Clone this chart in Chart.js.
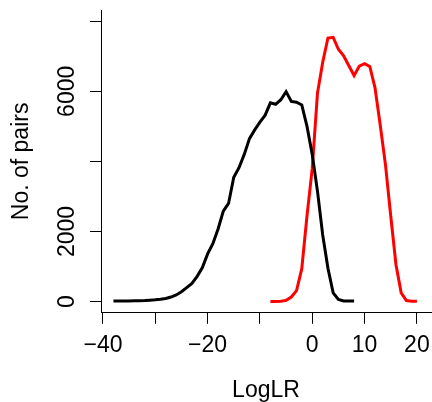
<!DOCTYPE html>
<html>
<head>
<meta charset="utf-8">
<script src="https://cdn.jsdelivr.net/npm/chart.js@4.4.1/dist/chart.umd.min.js"></script>
<style>
  html, body { margin: 0; padding: 0; background: #ffffff; }
  #wrap { width: 432px; height: 402px; }
</style>
</head>
<body>
<div id="wrap"><canvas id="c" width="432" height="402"></canvas></div>
<script>
// LogLR bins and counts (black: non-matching pairs, red: matching pairs)
const blackX = [-38,-37,-36,-35,-34,-33,-32,-31,-30,-29,-28,-27,-26,-25,-24,-23,-22,-21,-20,-19,-18,-17,-16,-15,-14,-13,-12,-11,-10,-9,-8,-7,-6,-5,-4,-3,-2,-1,0,1,2,3,4,5,6,7,8];
const blackY = [15,15,18,20,22,25,30,40,50,65,90,130,190,280,400,520,720,970,1360,1650,2070,2580,2800,3550,3820,4200,4650,4900,5120,5320,5670,5630,5760,5990,5710,5690,5610,5000,4200,3150,1900,950,250,60,20,15,15];
const redX = [-8,-7,-6,-5,-4,-3,-2,-1,0,1,2,3,4,5,6,7,8,9,10,11,12,13,14,15,16,17,18,19,20];
const redY = [5,5,10,35,130,314,940,2450,3800,5950,6830,7520,7540,7200,7010,6730,6450,6720,6790,6710,6100,5030,3900,2450,1060,250,30,10,10];
const xTicks = [-40,-30,-20,-10,0,10,20];
const xTickLabels = ['\u221240','','\u221220','','0','10','20'];
const yTicks = [0,2000,4000,6000,8000];
const yTickLabels = ['0','2000','','6000',''];
const xTitle = 'LogLR';
const yTitle = 'No. of pairs';

const FONT = 'Liberation Sans, Arial, Helvetica, sans-serif';

const toPts = (xs, ys) => xs.map((x, i) => ({ x: x, y: ys[i] }));

new Chart(document.getElementById('c'), {
  type: 'line',
  data: {
    datasets: [
      { data: toPts(blackX, blackY), borderColor: '#000000', borderWidth: 3, pointRadius: 0, tension: 0, fill: false },
      { data: toPts(redX, redY), borderColor: '#ff0000', borderWidth: 3, pointRadius: 0, tension: 0, fill: false }
    ]
  },
  options: {
    responsive: false,
    animation: false,
    devicePixelRatio: 1,
    layout: { padding: { top: 10, right: 1, left: 0, bottom: 0 } },
    plugins: { legend: { display: false }, tooltip: { enabled: false } },
    scales: {
      x: {
        type: 'linear',
        min: -40.38,
        max: 22.7,
        afterFit: s => { s.height = 89.2; s.paddingLeft = 0; s.paddingRight = 0; },
        afterBuildTicks: s => { s.ticks = xTicks.map(v => ({ value: v })); },
        grid: { display: true, drawOnChartArea: false, drawTicks: true, tickLength: 11, color: '#000000', lineWidth: 1 },
        border: { display: true, color: '#000000', width: 1 },
        ticks: {
          autoSkip: false, maxRotation: 0, minRotation: 0, padding: 8,
          color: '#000000', font: { family: FONT, size: 23 },
          callback: (v) => { const i = xTicks.indexOf(v); return i >= 0 ? xTickLabels[i] : ''; }
        },
        title: { display: true, text: xTitle, color: '#000000', font: { family: FONT, size: 23, lineHeight: 1 }, padding: { top: -3, bottom: 0 } }
      },
      y: {
        type: 'linear',
        min: -320,
        max: 8320,
        afterFit: s => { s.width = 101; s.paddingTop = 0; s.paddingBottom = 0; },
        afterBuildTicks: s => { s.ticks = yTicks.map(v => ({ value: v })); },
        grid: { display: true, drawOnChartArea: false, drawTicks: true, tickLength: 11, color: '#000000', lineWidth: 1 },
        border: { display: true, color: '#000000', width: 1 },
        ticks: {
          autoSkip: false, minRotation: 90, maxRotation: 90, crossAlign: 'center', padding: -3.5,
          color: '#000000', font: { family: FONT, size: 23 },
          callback: (v) => { const i = yTicks.indexOf(v); return i >= 0 ? yTickLabels[i] : ''; }
        },
        title: { display: true, text: yTitle, color: '#000000', font: { family: FONT, size: 23, lineHeight: 1.2 }, padding: { top: 8, bottom: 0 } }
      }
    }
  }
});
</script>
</body>
</html>
